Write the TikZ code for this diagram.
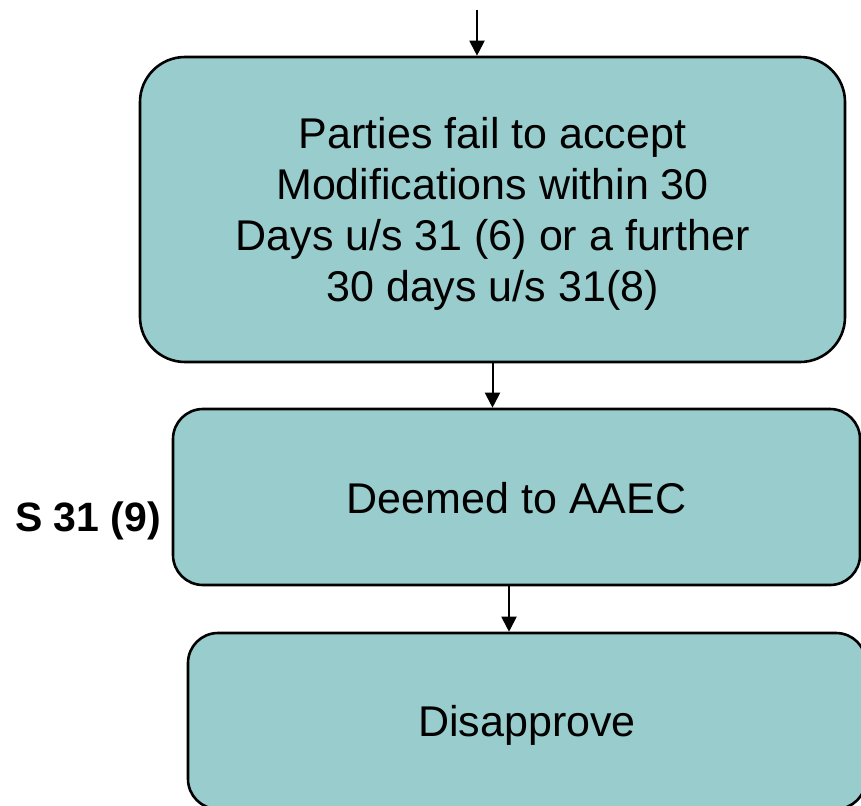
\documentclass[tikz,border=0pt]{standalone}
\usepackage{fontspec}
\setmainfont{Liberation Sans}
\usetikzlibrary{arrows.meta}
\definecolor{boxfill}{RGB}{153,204,204}
\begin{document}
\begin{tikzpicture}[x=1pt,y=-1pt,
  flowbox/.style={draw=black, line width=2.6pt, fill=boxfill, inner sep=0pt},
  boxtext/.style={align=center, inner sep=0pt, font=\fontsize{43}{51}\selectfont},
  arr/.style={draw=black, line width=2pt, -{Triangle[width=15pt,length=15pt]}},
  sidelabel/.style={font=\fontsize{41}{49}\selectfont\bfseries}]
\useasboundingbox (0,0) rectangle (861,805);

% process boxes, each with its caption set slightly below centre
\node[flowbox, rounded corners=45pt, minimum width=705pt, minimum height=305pt,
  label={[boxtext, yshift=-4pt]center:Parties fail to accept\\ Modifications within 30\\ Days u/s 31 (6) or a further\\ 30 days u/s 31(8)}]
  (b1) at (492.5,209.5) {};
\node[flowbox, rounded corners=30pt, minimum width=687pt, minimum height=176pt,
  label={[boxtext, yshift=-1pt]center:Deemed to AAEC}]
  (b2) at (516.5,497) {};
\node[flowbox, rounded corners=30pt, minimum width=678pt, minimum height=176pt,
  label={[boxtext, yshift=-4pt]center:Disapprove}]
  (b3) at (527,721) {};

% section reference beside the second box
\node[sidelabel] (lbl) at (88,521) {S 31 (9)};

% connectors
\coordinate (entry) at (477,10);
\coordinate (c23) at (509,0);
\draw[arr] (entry) -- (entry |- b1.north);
\draw[arr] (b1.south) -- (b1.south |- b2.north);
\draw[arr] (b2.south -| c23) -- (b3.north -| c23);
\end{tikzpicture}
\end{document}
